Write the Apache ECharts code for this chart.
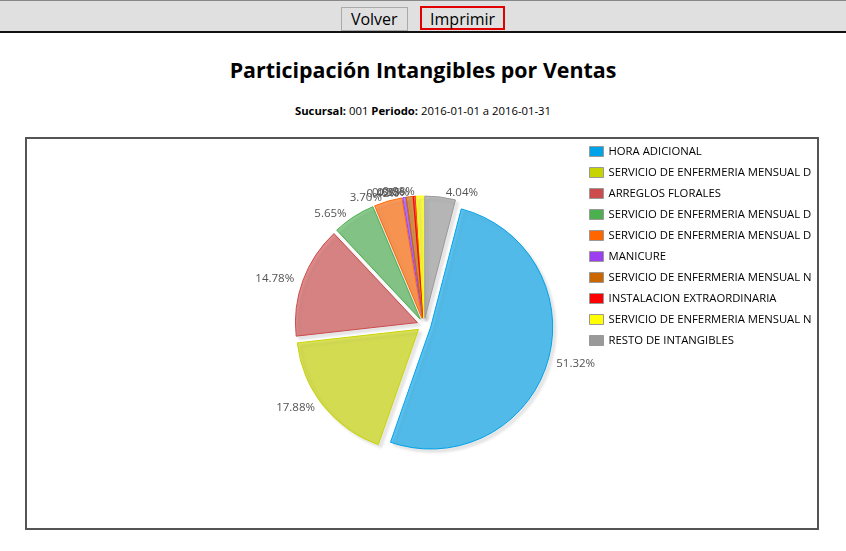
<!DOCTYPE html>
<html>
<head>
<meta charset="utf-8">
<script src="https://cdn.jsdelivr.net/npm/echarts@6/dist/echarts.min.js"></script>
<style>
  body { margin: 0; background: #fff; font-family: "Open Sans", sans-serif; }
  .barra { height: 33px; background: #e0e0e0; border-top: 1px solid #888; border-bottom: 2px solid #111; box-sizing: border-box; text-align: center; }
  .barra button { font-family: "Open Sans", sans-serif; font-size: 16px; height: 24px; margin-top: 5px; padding: 0 9px; background: #e0e0e0; border: 1px solid #aaa; color: #000; }
  .barra button.activo { border: 2px solid #e00000; padding: 0 8px; }
  h1 { font-size: 21.4px; font-weight: bold; text-align: center; margin: 0; position: absolute; top: 55px; width: 846px; }
  .sub { font-size: 11.3px; text-align: center; position: absolute; top: 103px; width: 846px; }
  #grafico { position: absolute; left: 25px; top: 137px; width: 794px; height: 393px; border: 2px solid #555; box-sizing: border-box; }
</style>
</head>
<body>
<div class="barra"><button>Volver</button> &nbsp; <button class="activo">Imprimir</button></div>
<h1>Participación Intangibles por Ventas</h1>
<div class="sub"><b>Sucursal:</b> 001 <b>Periodo:</b> 2016-01-01 a 2016-01-31</div>
<div id="grafico"></div>
<script>
/* datos de la grafica */
var nombres = [
  'HORA ADICIONAL',
  'SERVICIO DE ENFERMERIA MENSUAL DIURNO',
  'ARREGLOS FLORALES',
  'SERVICIO DE ENFERMERIA MENSUAL DIA COMPLETO',
  'SERVICIO DE ENFERMERIA MENSUAL DOMICILIO',
  'MANICURE',
  'SERVICIO DE ENFERMERIA MENSUAL NOCTURNO',
  'INSTALACION EXTRAORDINARIA',
  'SERVICIO DE ENFERMERIA MENSUAL NOCHE',
  'RESTO DE INTANGIBLES'
]
var valores = [51.32, 17.88, 14.78, 5.65, 3.70, 0.42, 0.88, 0.35, 0.98, 4.04]
var colores = ['#00a2e8', '#c8d400', '#cc4b4b', '#4caf50', '#ff6600', '#9b3ff0', '#cc6600', '#ff0000', '#ffff00', '#999999']

function rgba(hex, a) {
  var n = parseInt(hex.slice(1), 16)
  return 'rgba(' + (n >> 16) + ',' + ((n >> 8) & 255) + ',' + (n & 255) + ',' + a + ')'
}

var myChart = echarts.init(document.getElementById('grafico'))
var option = {
  animation: false,
  legend: {
    orient: 'vertical',
    left: 557,
    top: 2,
    itemWidth: 14,
    itemHeight: 10,
    itemGap: 10,
    // el recuadro corta los nombres largos
    formatter: function (name) { return name.slice(0, 32) },
    textStyle: { fontSize: 11.3, color: '#000', fontFamily: 'Open Sans' },
    data: nombres.map(function (n, i) {
      return { name: n, icon: 'rect', itemStyle: { color: colores[i], borderColor: '#999', borderWidth: 1 } }
    })
  },
  series: [{
    type: 'pie',
    center: [397, 186],
    radius: 122,
    startAngle: 75.5,
    selectedMode: 'multiple',
    selectedOffset: 7,
    avoidLabelOverlap: false,
    labelLayout: { hideOverlap: false },
    label: {
      position: 'outside',
      formatter: function (p) { return p.percent.toFixed(2) + '%' },
      fontSize: 11.5,
      color: '#545454',
      fontFamily: 'Open Sans'
    },
    labelLine: { show: false, length: 4, length2: 0 },
    emphasis: { disabled: true },
    data: valores.map(function (v, i) {
      return {
        name: nombres[i],
        value: v,
        selected: true,
        itemStyle: {
          color: rgba(colores[i], 0.65),
          borderColor: colores[i],
          borderWidth: 1,
          shadowColor: 'rgba(0,0,0,0.15)',
          shadowBlur: 3,
          shadowOffsetX: 3,
          shadowOffsetY: 3
        }
      }
    })
  }]
}
myChart.setOption(option)
</script>
</body>
</html>
